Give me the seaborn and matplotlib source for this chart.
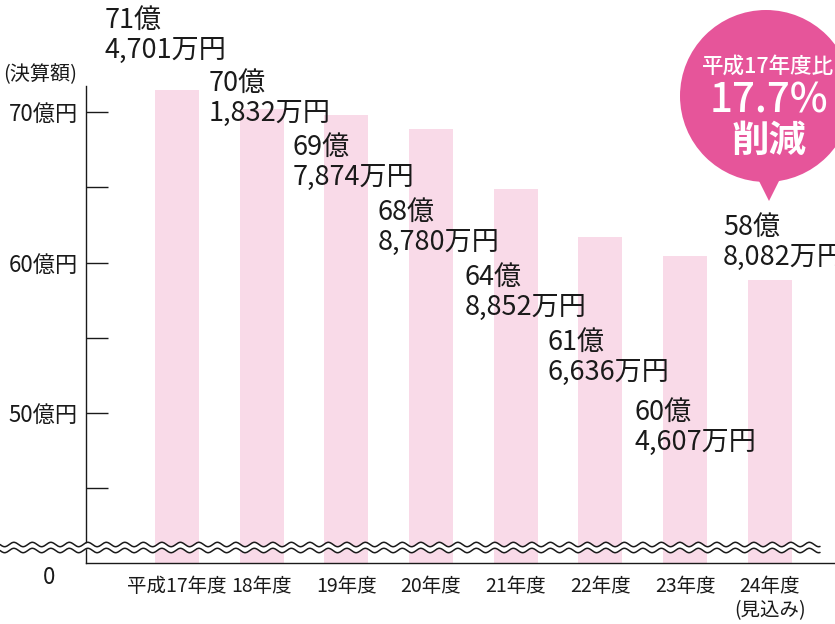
import numpy as np
import pandas as pd
import matplotlib
matplotlib.use("Agg")
import matplotlib.pyplot as plt
import seaborn as sns
from matplotlib.patches import Circle, Polygon
from matplotlib.ticker import FixedLocator

# ---- data ----
categories = ["平成17年度", "18年度", "19年度", "20年度", "21年度", "22年度", "23年度", "24年度\n(見込み)"]
values_man = [714701, 701832, 697874, 688780, 648852, 616636, 604607, 588082]  # 万円
label_x = [-0.85, 0.378, 1.369, 2.373, 3.40, 4.38, 5.407, 6.446]
label_y = [75.58, 71.40, 67.14, 62.82, 58.50, 54.19, 49.53, 61.83]
major_ticks = [50, 60, 70]
major_labels = ["50億円", "60億円", "70億円"]
minor_ticks = [45, 55, 65]
bubble_lines = ["平成17年度比", "17.7%", "削減"]

BAR_COLOR = "#f9dae8"
BUBBLE_COLOR = "#e6559a"
INK = "#1a1a1a"

sns.set_theme(style="white")
plt.rcParams['font.family'] = ['Noto Sans CJK JP', 'DejaVu Sans']

df = pd.DataFrame({"year": categories, "value": [v / 10000 for v in values_man]})

W, H = 835, 624
fig = plt.figure(figsize=(W / 100, H / 100), dpi=100)
ax = fig.add_axes([86 / W, (H - 563) / H, (835 - 86) / W, (563 - 86) / H])
sns.barplot(data=df, x="year", y="value", color=BAR_COLOR, saturation=1,
            width=0.52, linewidth=0, ax=ax)
ax.set_xlim(-1.074, 7.77)
ax.set_ylim(40.03, 71.73)
ax.set_xlabel("")
ax.set_ylabel("")

for s in ["top", "right"]:
    ax.spines[s].set_visible(False)
for s in ["left", "bottom"]:
    ax.spines[s].set_visible(True)
    ax.spines[s].set_color(INK)
    ax.spines[s].set_linewidth(1.0)

ax.yaxis.set_major_locator(FixedLocator(major_ticks))
ax.yaxis.set_minor_locator(FixedLocator(minor_ticks))
ax.set_yticklabels(major_labels)
ax.tick_params(axis="y", which="both", left=True, direction="in", length=15.5,
               width=1.0, color=INK, pad=6, labelsize=16, labelcolor=INK)
ax.tick_params(axis="x", bottom=False, length=0, pad=9, labelsize=14, labelcolor=INK)

for i, v in enumerate(values_man):
    oku, man = divmod(v, 10000)
    ax.text(label_x[i], label_y[i], f"{oku}億", fontsize=19.5, color=INK,
            ha="left", va="baseline", clip_on=False)
    ax.text(label_x[i], label_y[i] - 1.99, f"{man:,}万円", fontsize=19.5, color=INK,
            ha="left", va="baseline", clip_on=False)

# overlay in pixel coordinates for decorations
ov = fig.add_axes([0, 0, 1, 1])
ov.set_xlim(0, W)
ov.set_ylim(H, 0)
ov.axis("off")
ov.patch.set_visible(False)

xs = np.linspace(0, 820, 1200)
y1 = 544.5 + 2.2 * np.sin(2 * np.pi * xs / 18.5)
y2 = y1 + 6
ov.fill_between(xs, y1, y2, color="white", lw=0)
ov.plot(xs, y1, color=INK, lw=1.1)
ov.plot(xs, y2, color=INK, lw=1.1)

ov.add_patch(Circle((766, 96), 86, color=BUBBLE_COLOR, lw=0))
ov.add_patch(Polygon([(756, 175), (782, 175), (769, 201)], closed=True,
                     color=BUBBLE_COLOR, lw=0))
ov.text(768, 67, bubble_lines[0], color="white", fontsize=15.5, ha="center",
        va="center", weight="medium")
ov.text(769, 101, bubble_lines[1], color="white", fontsize=29, ha="center",
        va="center", weight="medium")
ov.text(769, 140, bubble_lines[2], color="white", fontsize=27, ha="center",
        va="center", weight="bold")

ov.text(3, 75, "(決算額)", color=INK, fontsize=14.5, ha="left", va="center")
ov.text(49, 578, "0", color=INK, fontsize=16, ha="center", va="center")

fig.savefig("out.png", dpi=100)
